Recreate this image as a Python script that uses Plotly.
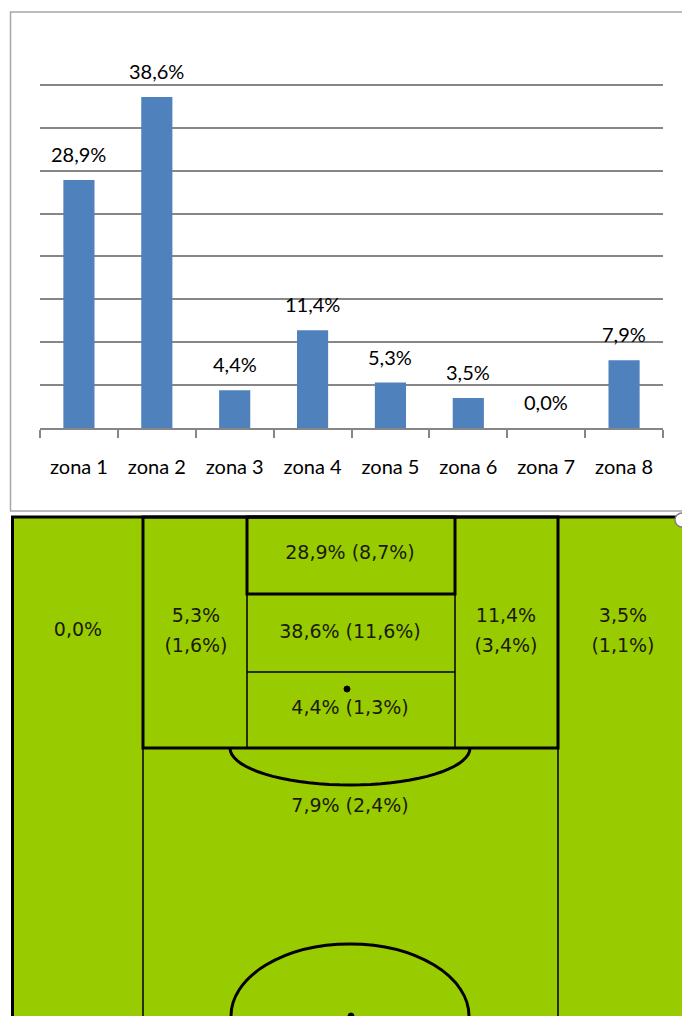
import math
import plotly.graph_objects as go

# ---------------- data ----------------
zones = ["zona 1", "zona 2", "zona 3", "zona 4", "zona 5", "zona 6", "zona 7", "zona 8"]
zone_pct = [28.9, 38.6, 4.4, 11.4, 5.3, 3.5, 0.0, 7.9]
total_pct = [8.7, 11.6, 1.3, 3.4, 1.6, 1.1, None, 2.4]

# ---------------- layout constants (pixels) ----------------
W, H = 682, 1016
BAR_COLOR = "#4F81BD"
GRID = "#868686"
GREEN = "#99CC00"
CAL = "Lato, Carlito, 'Open Sans', sans-serif"
FIELD_FONT = "'DejaVu Sans', Verdana, sans-serif"

# where each zone's label sits on the pitch drawing (x, y, two-line?)
field_pos = [
    (350, 554, False),  # zona 1
    (350, 633, False),  # zona 2
    (350, 709, False),  # zona 3
    (506, 632, True),   # zona 4
    (196, 632, True),   # zona 5
    (623, 632, True),   # zona 6
    (78, 631, False),   # zona 7
    (350, 807, False),  # zona 8
]


def fmt(v):
    return f"{v:.1f}".replace(".", ",") + "%"


def px(x):
    return x / W


def py(y):
    return 1 - y / H


fig = go.Figure()

# bar chart
fig.add_trace(go.Bar(
    x=zones, y=zone_pct, marker=dict(color=BAR_COLOR, line=dict(width=0)),
    xaxis="x", yaxis="y", showlegend=False, hoverinfo="skip",
))

annotations = []
for z, v in zip(zones, zone_pct):
    annotations.append(dict(
        x=z, y=v, xref="x", yref="y", text=fmt(v), showarrow=False,
        yanchor="bottom", yshift=12, font=dict(family=CAL, size=20, color="#000000"),
    ))

# pitch labels
fx, fy, ft = [], [], []
for i, (lx, ly, split) in enumerate(field_pos):
    a = fmt(zone_pct[i])
    b = None if total_pct[i] is None else "(" + fmt(total_pct[i]) + ")"
    if b is None:
        fx.append(lx); fy.append(ly); ft.append(a)
    elif split:
        fx += [lx, lx]; fy += [ly - 15, ly + 15]; ft += [a, b]
    else:
        fx.append(lx); fy.append(ly); ft.append(a + " " + b)

fig.add_trace(go.Scatter(
    x=fx, y=fy, text=ft, mode="text", xaxis="x2", yaxis="y2",
    textfont=dict(family=FIELD_FONT, size=19, color="#1a1a0a"),
    showlegend=False, hoverinfo="skip",
))

shapes = []
# chart frame (paper, drawn beneath every subplot)
shapes.append(dict(type="rect", xref="paper", yref="paper", x0=px(10.5), y0=py(511), x1=1.05, y1=py(12),
                   line=dict(color="#A6A6A6", width=1.5), fillcolor="white", layer="below"))
# pitch background
shapes.append(dict(type="rect", xref="paper", yref="paper", x0=px(12.5), y0=-0.05, x1=1.05, y1=py(517),
                   line=dict(color="black", width=3), fillcolor=GREEN, layer="below"))


def line(x0, y0, x1, y1, w):
    return dict(type="line", xref="x2", yref="y2", x0=x0, y0=y0, x1=x1, y1=y1,
                line=dict(color="black", width=w), layer="above")


# penalty box
shapes.append(dict(type="rect", xref="x2", yref="y2", x0=143, y0=517, x1=558, y1=748,
                   line=dict(color="black", width=3), layer="above"))
# goal box (top)
shapes.append(dict(type="rect", xref="x2", yref="y2", x0=247, y0=517, x1=455, y1=594,
                   line=dict(color="black", width=3), layer="above"))
shapes.append(line(247, 594, 247, 748, 1.5))
shapes.append(line(455, 594, 455, 748, 1.5))
shapes.append(line(247, 672, 455, 672, 1.5))
shapes.append(line(143, 748, 143, 1020, 1.5))
shapes.append(line(558, 748, 558, 1020, 1.5))
# penalty spot
shapes.append(dict(type="circle", xref="x2", yref="y2", x0=344, y0=686, x1=350, y1=692,
                   line=dict(color="black", width=1), fillcolor="black", layer="above"))
# penalty arc (half ellipse below the box)
pts = []
for k in range(0, 181, 5):
    t = math.radians(k)
    pts.append((350 + 120 * math.cos(t), 748 + 37 * math.sin(t)))
path = "M " + " L ".join(f"{x:.2f},{y:.2f}" for x, y in pts)
shapes.append(dict(type="path", xref="x2", yref="y2", path=path,
                   line=dict(color="black", width=3), layer="above"))
# centre circle
shapes.append(dict(type="circle", xref="x2", yref="y2", x0=231, y0=944, x1=469, y1=1088,
                   line=dict(color="black", width=3), layer="above"))
shapes.append(dict(type="circle", xref="x2", yref="y2", x0=348, y0=1013, x1=354, y1=1019,
                   line=dict(color="black", width=1), fillcolor="black", layer="above"))
# small resize handle at the top-right corner
shapes.append(dict(type="circle", xref="x2", yref="y2", x0=675, y0=513, x1=689, y1=527,
                   line=dict(color="#7f7f7f", width=1.5), fillcolor="white", layer="above"))

fig.update_layout(
    width=W, height=H,
    margin=dict(l=0, r=0, t=0, b=0),
    paper_bgcolor="white", plot_bgcolor="rgba(0,0,0,0)",
    bargap=0.6,
    showlegend=False,
    xaxis=dict(
        domain=[40 / W, 663 / W], anchor="y", type="category",
        tickson="boundaries", ticks="outside", ticklen=8, tickwidth=1.5, tickcolor=GRID,
        showline=True, linecolor=GRID, linewidth=1.5, showgrid=False, zeroline=False,
        tickfont=dict(family=CAL, size=20, color="#000000"), ticklabelstandoff=20,
        fixedrange=True,
    ),
    yaxis=dict(
        domain=[1 - 428 / H, 1 - 42 / H], anchor="x", range=[0, 45], dtick=5,
        showgrid=True, gridcolor=GRID, gridwidth=1.5, showticklabels=False,
        zeroline=False, ticks="", showline=False, fixedrange=True,
    ),
    xaxis2=dict(domain=[0, 1], anchor="y2", range=[0, W], visible=False, fixedrange=True),
    yaxis2=dict(domain=[0, 1], anchor="x2", range=[H, 0], visible=False, fixedrange=True),
    shapes=shapes,
    annotations=annotations,
)

fig.write_html(
    "out.html",
    config={"displayModeBar": False},
    post_script="document.body.style.margin='0';document.body.style.overflow='hidden';",
)
